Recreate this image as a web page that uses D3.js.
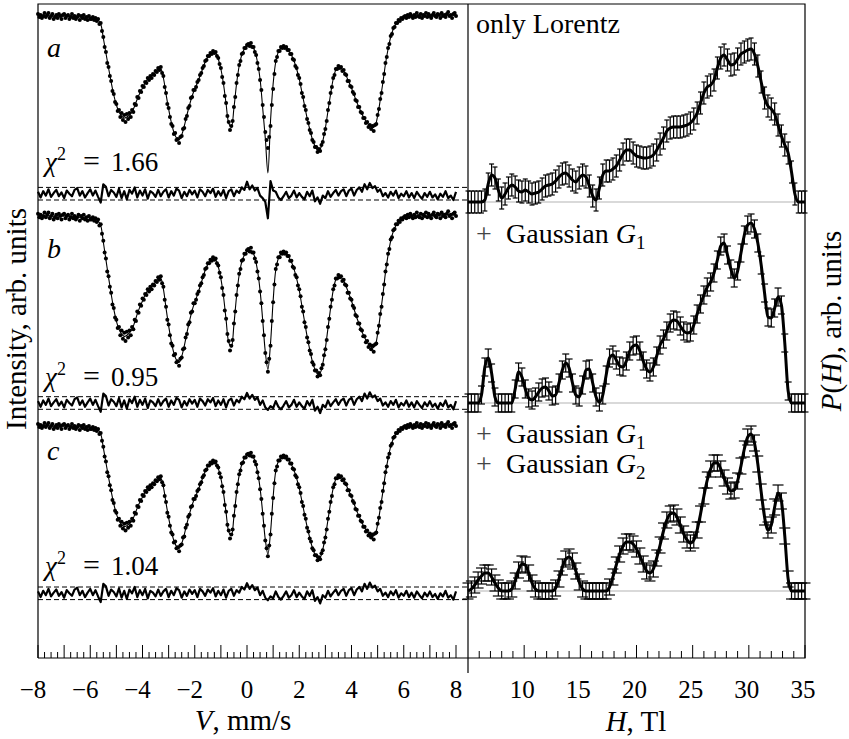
<!DOCTYPE html>
<html>
<head>
<meta charset="utf-8">
<script src="https://cdn.jsdelivr.net/npm/d3@7"></script>
<style>
body { margin: 0; background: #fff; }
svg text { font-family: "Liberation Serif", "DejaVu Serif", "Times New Roman", serif; fill: #000; }
</style>
</head>
<body>
<div id="chart"></div>
<script>
const width = 849;
const height = 739;

// channel velocities of the measured spectrum, mm/s
const dataV = d3.range(321).map(i => -8 + i * 0.05);
// velocity grid of the fits and residuals
const velocity = d3.range(161).map(i => -8 + i * 0.1);

// measured intensity, arb. units (same spectrum in all three panels)
const spectrum = [
  1002, 999, 1001, 998, 1000, 1003, 999, 1001, 1003, 998,
  1000, 1002, 997, 999, 1001, 998, 1002, 1000, 997, 1001,
  1002, 998, 1000, 1001, 997, 999, 1002, 998, 1000, 997,
  999, 1001, 996, 1000, 998, 1001, 997, 999, 996, 1000, 997,
  997, 999, 996, 998, 995, 997, 992, 993, 985, 979,
  969, 964, 953, 949, 940, 935, 925, 922, 914, 912,
  905, 906, 899, 903, 896, 901, 894, 902, 897, 903,
  899, 906, 904, 912, 911, 919, 918, 925, 924, 930,
  929, 934, 933, 938, 936, 940, 938, 942, 941, 945,
  944, 948, 946, 949, 943, 940, 929, 923, 912, 908,
  899, 892, 890, 882, 883, 876, 877, 873, 879, 880,
  887, 888, 897, 900, 908, 910, 918, 919, 926, 926,
  929, 934, 936, 941, 943, 948, 950, 955, 956, 960,
  960, 963, 962, 965, 963, 964, 960, 958, 952, 948,
  939, 933, 920, 913, 900, 894, 886, 890, 895, 909,
  919, 933, 941, 951, 955, 962, 963, 968, 968, 971,
  972, 970, 973, 969, 969, 964, 961, 953, 947, 936,
  926, 911, 899, 884, 876, 868, 879, 890, 911, 927,
  942, 955, 959, 965, 965, 969, 968, 970, 968, 969,
  966, 966, 962, 962, 957, 956, 950, 948, 941, 938,
  932, 923, 919, 910, 906, 897, 893, 886, 883, 876,
  874, 869, 869, 864, 867, 865, 871, 874, 882, 887,
  895, 906, 913, 923, 929, 938, 941, 947, 947, 950,
  948, 949, 945, 946, 942, 941, 935, 935, 930, 929,
  924, 922, 916, 915, 909, 909, 904, 903, 898, 898,
  893, 894, 889, 891, 887, 890, 885, 891, 892, 901,
  907, 917, 923, 934, 942, 953, 959, 968, 972, 980,
  982, 988, 989, 993, 993, 996, 995, 998, 997, 999,
  1000, 998, 1001, 999, 1002, 1000, 998, 1001, 999, 1003,
  1000, 999, 1002, 998, 1001, 1000, 1003, 999, 1002, 1000,
  998, 1001, 1003, 1000, 999, 1002, 1001, 998, 1003, 1000,
  1001, 999, 1002, 1004, 1000, 1001, 998, 1002, 1003, 1000
];

// fit with Lorentz lines only
const fitA = [
  1000, 1000, 1000, 1000, 1000, 1000, 1000, 1000, 1000, 1000,
  1000, 1000, 1000, 1000, 999, 999, 999, 999, 999, 999,
  999, 998, 998, 996, 992, 978, 963, 948, 934, 921,
  911, 904, 900, 898, 899, 901, 904, 910, 917, 923,
  928, 933, 937, 939, 941, 944, 947, 947, 938, 922,
  907, 894, 884, 878, 876, 881, 890, 901, 911, 920,
  927, 933, 940, 947, 954, 959, 962, 964, 963, 957,
  947, 932, 912, 893, 889, 908, 932, 950, 961, 967,
  970, 971, 970, 965, 954, 937, 908, 878, 843, 895,
  932, 954, 964, 968, 969, 968, 965, 961, 955, 947,
  937, 924, 911, 898, 887, 877, 870, 866, 867, 875,
  888, 905, 922, 937, 946, 949, 948, 945, 940, 934,
  928, 921, 914, 908, 902, 897, 893, 890, 888, 890,
  900, 916, 933, 952, 967, 979, 987, 992, 995, 997,
  998, 999, 1000, 1000, 1000, 1000, 1000, 1000, 1000, 1000,
  1001, 1001, 1001, 1001, 1001, 1001, 1001, 1001, 1001, 1001, 1001
];

// fit with Gaussian components (b and c coincide at this scale)
const fitBC = [
  1000, 1000, 1000, 1000, 1000, 1000, 1000, 1000, 1000, 1000,
  1000, 1000, 1000, 1000, 999, 999, 999, 999, 999, 999,
  999, 998, 998, 996, 992, 978, 963, 948, 934, 921,
  911, 904, 900, 898, 899, 901, 904, 910, 917, 923,
  928, 933, 937, 939, 941, 944, 947, 947, 938, 922,
  907, 894, 884, 878, 876, 881, 890, 901, 911, 920,
  927, 933, 940, 947, 954, 959, 962, 964, 963, 957,
  947, 932, 912, 893, 889, 908, 932, 950, 961, 967,
  970, 971, 970, 965, 954, 937, 912, 885, 870, 892,
  928, 954, 964, 968, 969, 968, 965, 961, 955, 947,
  937, 924, 911, 898, 887, 877, 870, 866, 867, 875,
  888, 905, 922, 937, 946, 949, 948, 945, 940, 934,
  928, 921, 914, 908, 902, 897, 893, 890, 888, 890,
  900, 916, 933, 952, 967, 979, 987, 992, 995, 997,
  998, 999, 1000, 1000, 1000, 1000, 1000, 1000, 1000, 1000,
  1001, 1001, 1001, 1001, 1001, 1001, 1001, 1001, 1001, 1001, 1001
];

// residuals in units of the dashed band half-width
const residA = [
  0.3, -0.6, 0.4, -0.3, 0.7, -0.5, 0.1, 0.6, -0.4, 0.2,
  -0.7, 0.5, 0.0, -0.4, 0.6, 0.9, -0.3, 0.4, -0.6, 0.1,
  0.7, -0.3, 0.5, -0.5, -1.4, 1.5, 1.1, -0.4, 0.6, 0.2,
  -0.5, 0.8, -0.7, 0.4, -0.9, 0.6, 0.0, 1.0, -0.6, 0.5,
  -0.3, 0.7, -0.8, 0.4, 0.1, -0.5, 0.6, -0.4, 0.3, 0.7,
  -0.6, 0.4, -0.3, 0.8, 0.5, -0.7, 0.3, -0.4, 0.6, -0.1,
  0.5, -0.6, 0.7, 0.3, -0.4, 0.6, 0.1, 0.8, -0.5, 0.4,
  -0.3, 0.6, -0.7, 0.4, 0.7, -0.4, 0.5, 0.1, 1.0, 0.6,
  1.9, 0.7, 1.3, 0.5, 0.9, -0.3, -0.7, -1.3, -3.9, 2.0,
  0.5, 0.3, -0.6, -1.0, -0.4, 0.3, -0.7, -0.3, 0.5, -0.6,
  0.1, -0.5, -0.9, 0.3, -0.4, 0.5, -1.2, -0.6, -1.6, -0.3,
  -0.7, 0.4, -0.5, 0.1, 0.6, -0.3, 0.4, 0.7, -0.4, 0.5,
  0.8, -0.3, 0.6, 1.0, 0.3, 1.5, 0.7, 1.7, 0.9, 1.2,
  0.3, 0.7, -0.4, 0.1, -0.6, 0.3, -0.3, 0.5, -0.7, 0.0,
  -0.4, 0.4, -0.6, 0.1, -0.7, 0.3, -0.3, -0.8, 0.1, -0.5,
  0.3, -0.6, -0.1, -0.9, 0.0, -0.5, 0.4, -0.7, -0.3, -1.0, 0.3
];

const residBC = [
  0.3, -0.6, 0.4, -0.3, 0.7, -0.5, 0.1, 0.6, -0.4, 0.2,
  -0.7, 0.5, 0.0, -0.4, 0.6, 0.9, -0.3, 0.4, -0.6, 0.1,
  0.7, -0.3, 0.5, -0.5, -1.4, 1.5, 1.1, -0.4, 0.6, 0.2,
  -0.5, 0.8, -0.7, 0.4, -0.9, 0.6, 0.0, 1.0, -0.6, 0.5,
  -0.3, 0.7, -0.8, 0.4, 0.1, -0.5, 0.6, -0.4, 0.3, 0.7,
  -0.6, 0.4, -0.3, 0.8, 0.5, -0.7, 0.3, -0.4, 0.6, -0.1,
  0.5, -0.6, 0.7, 0.3, -0.4, 0.6, 0.1, 0.8, -0.5, 0.4,
  -0.3, 0.6, -0.7, 0.4, 0.7, -0.4, 0.5, 0.1, 1.0, 0.6,
  1.6, 0.7, 1.3, 0.5, 0.9, -0.3, 0.4, -0.7, -1.1, -0.5,
  -0.8, 0.3, -0.6, -1.0, -0.4, 0.3, -0.7, -0.3, 0.5, -0.6,
  0.1, -0.5, -0.9, 0.3, -0.4, 0.5, -1.2, -0.6, -1.6, -0.3,
  -0.7, 0.4, -0.5, 0.1, 0.6, -0.3, 0.4, 0.7, -0.4, 0.5,
  0.8, -0.3, 0.6, 1.0, 0.3, 1.5, 0.7, 1.7, 0.9, 1.2,
  0.3, 0.7, -0.4, 0.1, -0.6, 0.3, -0.3, 0.5, -0.7, 0.0,
  -0.4, 0.4, -0.6, 0.1, -0.7, 0.3, -0.3, -0.8, 0.1, -0.5,
  0.3, -0.6, -0.1, -0.9, 0.0, -0.5, 0.4, -0.7, -0.3, -1.0, 0.3
];

// hyperfine field grid, T
const field = d3.range(101).map(i => 5 + i * 0.3);

const pLorentz = [
  0, 0, 0, 0, 0, 2, 18, 27, 24, 12,
  4, 8, 14, 17, 15, 11, 10, 12, 10, 8,
  9, 10, 13, 16, 17, 18, 21, 25, 28, 29,
  26, 22, 20, 24, 27, 25, 16, 6, 2, 14,
  27, 31, 31, 33, 36, 42, 48, 52, 52, 49,
  46, 45, 44, 44, 45, 47, 52, 58, 64, 71,
  74, 75, 75, 75, 76, 77, 79, 83, 89, 99,
  109, 115, 117, 122, 134, 144, 147, 142, 137, 138,
  143, 148, 150, 152, 153, 148, 136, 120, 104, 96,
  93, 88, 77, 66, 57, 49, 30, 8, 0, 0,
  0
];

const pGauss1 = [
  0, 0, 0, 0, 8, 36, 45, 30, 6, 0,
  0, 0, 0, 0, 14, 31, 26, 14, 5, 3,
  6, 11, 15, 16, 12, 7, 8, 20, 33, 40,
  35, 20, 8, 6, 18, 33, 34, 20, 6, 1,
  8, 28, 45, 48, 43, 37, 36, 42, 52, 57,
  58, 52, 42, 34, 31, 36, 47, 58, 64, 72,
  80, 83, 82, 77, 72, 70, 71, 78, 89, 99,
  108, 116, 121, 130, 143, 157, 160, 148, 134, 125,
  132, 150, 168, 178, 180, 174, 160, 138, 110, 86,
  85, 95, 106, 98, 60, 12, 0, 0, 0, 0,
  0
];

const pGauss2 = [
  0, 2, 6, 11, 15, 18, 18, 14, 8, 3,
  0, 0, 0, 2, 10, 21, 27, 26, 18, 8,
  2, 0, 0, 0, 0, 0, 3, 12, 24, 32,
  34, 30, 20, 9, 2, 0, 0, 0, 0, 0,
  0, 0, 4, 14, 26, 37, 45, 49, 49, 47,
  42, 35, 27, 20, 18, 22, 33, 46, 60, 71,
  77, 78, 74, 66, 57, 51, 48, 51, 61, 77,
  95, 111, 122, 128, 128, 122, 113, 105, 100, 101,
  110, 125, 142, 154, 157, 148, 127, 99, 74, 61,
  66, 84, 98, 90, 55, 12, 0, 0, 0, 0,
  0
];

const errors = [11, 9, 8];
const chi2 = ["1.66", "0.95", "1.04"];
const panelLetters = ["a", "b", "c"];
const vTickLabels = [-8, -6, -4, -2, 0, 2, 4, 6, 8];
const hTickLabels = [10, 15, 20, 25, 30, 35];

const xLeft = 38, xMid = 468, xRight = 805, yTop = 4, yBottom = 658;
const serif = '"Liberation Serif", "DejaVu Serif", "Times New Roman", serif';

const svg = d3.select("#chart")
    .append("svg")
    .attr("width", width)
    .attr("height", height)
    .style("font-family", serif);

const xV = d3.scaleLinear().domain([-8, 8]).range([38, 456]);
const xH = d3.scaleLinear().domain([5, 35]).range([xMid, xRight]);

// ---- left: spectra ----
const leftPanels = [
    {fit: fitA, resid: residA, base: 16, depth: 150, res: 193.7, letterY: 57, chiY: 171},
    {fit: fitBC, resid: residBC, base: 216, depth: 177, res: 403, letterY: 258, chiY: 386},
    {fit: fitBC, resid: residBC, base: 426, depth: 148, res: 593.3, letterY: 460, chiY: 575}
];

leftPanels.forEach((p, k) => {
    const y = d3.scaleLinear().domain([850, 1000]).range([p.base + p.depth, p.base]);
    const yr = d3.scaleLinear().domain([-1, 1]).range([p.res + 6.3, p.res - 6.3]);
    const g = svg.append("g");

    g.selectAll(".band")
        .data([-1, 1])
        .enter().append("line")
        .attr("x1", xLeft).attr("x2", xMid)
        .attr("y1", d => yr(d)).attr("y2", d => yr(d))
        .attr("stroke", "#000")
        .attr("stroke-width", 1)
        .attr("stroke-dasharray", "5,3");

    g.append("path")
        .datum(p.resid)
        .attr("fill", "none")
        .attr("stroke", "#000")
        .attr("stroke-width", 2.2)
        .attr("stroke-linejoin", "round")
        .attr("d", d3.line().x((d, i) => xV(velocity[i])).y(d => yr(d)));

    g.append("path")
        .datum(p.fit)
        .attr("fill", "none")
        .attr("stroke", "#000")
        .attr("stroke-width", 1.1)
        .attr("d", d3.line().curve(d3.curveCatmullRom)
            .x((d, i) => xV(velocity[i])).y(d => y(d)));

    g.selectAll(".dot")
        .data(spectrum)
        .enter().append("circle")
        .attr("cx", (d, i) => xV(dataV[i]))
        .attr("cy", d => y(d))
        .attr("r", 2)
        .attr("fill", "#000");

    g.append("text")
        .attr("x", 47).attr("y", p.letterY)
        .style("font-size", "28px")
        .style("font-style", "italic")
        .text(panelLetters[k]);

    // χ² = value, pieces placed to match the wide TeX spacing
    const chi = g.append("text")
        .attr("x", 45).attr("y", p.chiY)
        .style("font-size", "27px");
    chi.append("tspan").style("font-style", "italic").text("χ");
    chi.append("tspan").attr("dy", -11).style("font-size", "18px").text("2");
    chi.append("tspan").attr("x", 83).attr("dy", 11).style("font-size", "30px").text("=");
    chi.append("tspan").attr("x", 111).text(chi2[k]);
});

// ---- right: field distributions ----
const rightPanels = [
    {values: pLorentz, zero: 202, cap: 2.5},
    {values: pGauss1, zero: 403, cap: 3.5},
    {values: pGauss2, zero: 591, cap: 5.5}
];

rightPanels.forEach((p, k) => {
    const y = d3.scaleLinear().domain([0, 160]).range([p.zero, p.zero - 160]);
    const err = errors[k];
    const g = svg.append("g");

    g.append("line")
        .attr("x1", xMid).attr("x2", xRight)
        .attr("y1", y(0)).attr("y2", y(0))
        .attr("stroke", "#b3b3b3")
        .attr("stroke-width", 1);

    const bars = g.selectAll(".err")
        .data(p.values)
        .enter().append("g")
        .attr("stroke", "#000")
        .attr("stroke-width", 1.2);
    bars.append("line")
        .attr("x1", (d, i) => xH(field[i])).attr("x2", (d, i) => xH(field[i]))
        .attr("y1", d => y(d - err)).attr("y2", d => y(d + err));
    bars.append("line")
        .attr("x1", (d, i) => xH(field[i]) - p.cap).attr("x2", (d, i) => xH(field[i]) + p.cap)
        .attr("y1", d => y(d + err)).attr("y2", d => y(d + err));
    bars.append("line")
        .attr("x1", (d, i) => xH(field[i]) - p.cap).attr("x2", (d, i) => xH(field[i]) + p.cap)
        .attr("y1", d => y(d - err)).attr("y2", d => y(d - err));

    g.append("path")
        .datum(p.values)
        .attr("fill", "none")
        .attr("stroke", "#000")
        .attr("stroke-width", 3)
        .attr("stroke-linejoin", "round")
        .attr("d", d3.line().curve(d3.curveMonotoneX)
            .x((d, i) => xH(field[i])).y(d => y(d)));
});

// legends of the right panels
svg.append("text").attr("x", 476).attr("y", 33)
    .style("font-size", "28px").text("only Lorentz");

function gaussLabel(yPos, idx) {
    svg.append("text").attr("x", 476).attr("y", yPos)
        .style("font-size", "28px").style("fill", "#444").text("+");
    const t = svg.append("text").attr("x", 506).attr("y", yPos)
        .style("font-size", "28px");
    t.append("tspan").text("Gaussian ");
    t.append("tspan").style("font-style", "italic").text("G");
    t.append("tspan").attr("dy", 6).style("font-size", "19px").text(idx);
}
gaussLabel(243, "1");
gaussLabel(443, "1");
gaussLabel(473, "2");

// ---- frame ----
const frame = svg.append("g")
    .attr("stroke", "#000")
    .attr("stroke-width", 1.2)
    .attr("fill", "none");
frame.append("path")
    .attr("d", `M${xLeft},${yBottom}V${yTop}H${xRight}V${yBottom}H${xLeft}`);
frame.append("line")
    .attr("x1", xMid).attr("x2", xMid)
    .attr("y1", yTop).attr("y2", 673);

// ticks on the velocity axis
const vTicks = d3.range(-32, 33).map(i => i / 4);
svg.append("g").selectAll("line")
    .data(vTicks)
    .enter().append("line")
    .attr("x1", d => xV(d)).attr("x2", d => xV(d))
    .attr("y1", yBottom)
    .attr("y2", d => Number.isInteger(d) ? yBottom - 13 : yBottom - 6)
    .attr("stroke", "#000")
    .attr("stroke-width", 1);

const hTicks = d3.range(6, 36);
svg.append("g").selectAll("line")
    .data(hTicks)
    .enter().append("line")
    .attr("x1", d => xH(d)).attr("x2", d => xH(d))
    .attr("y1", yBottom)
    .attr("y2", d => d % 5 === 0 ? yBottom - 13 : yBottom - 7)
    .attr("stroke", "#000")
    .attr("stroke-width", 1);

const fmt = d3.format("d");
svg.append("g").selectAll("text")
    .data(vTickLabels)
    .enter().append("text")
    .attr("x", d => d < 0 ? xV(d) - 5 : xV(d))
    .attr("y", 698)
    .attr("text-anchor", "middle")
    .style("font-size", "25px")
    .text(d => fmt(d));

svg.append("g").selectAll("text")
    .data(hTickLabels)
    .enter().append("text")
    .attr("x", d => xH(d) - 2)
    .attr("y", 698)
    .attr("text-anchor", "middle")
    .style("font-size", "25px")
    .text(d => d);

// axis titles
const vTitle = svg.append("text")
    .attr("x", 243).attr("y", 730)
    .attr("text-anchor", "middle")
    .style("font-size", "29px");
vTitle.append("tspan").style("font-style", "italic").text("V");
vTitle.append("tspan").text(", mm/s");

const hTitle = svg.append("text")
    .attr("x", 636).attr("y", 731)
    .attr("text-anchor", "middle")
    .style("font-size", "29px");
hTitle.append("tspan").style("font-style", "italic").text("H");
hTitle.append("tspan").text(", Tl");

svg.append("text")
    .attr("transform", "translate(26,319) rotate(-90)")
    .attr("text-anchor", "middle")
    .style("font-size", "29px")
    .text("Intensity, arb. units");

const pTitle = svg.append("text")
    .attr("transform", "translate(841,321) rotate(-90)")
    .attr("text-anchor", "middle")
    .style("font-size", "29px");
pTitle.append("tspan").style("font-style", "italic").text("P");
pTitle.append("tspan").text("(");
pTitle.append("tspan").style("font-style", "italic").text("H");
pTitle.append("tspan").text("), arb. units");
</script>
</body>
</html>
